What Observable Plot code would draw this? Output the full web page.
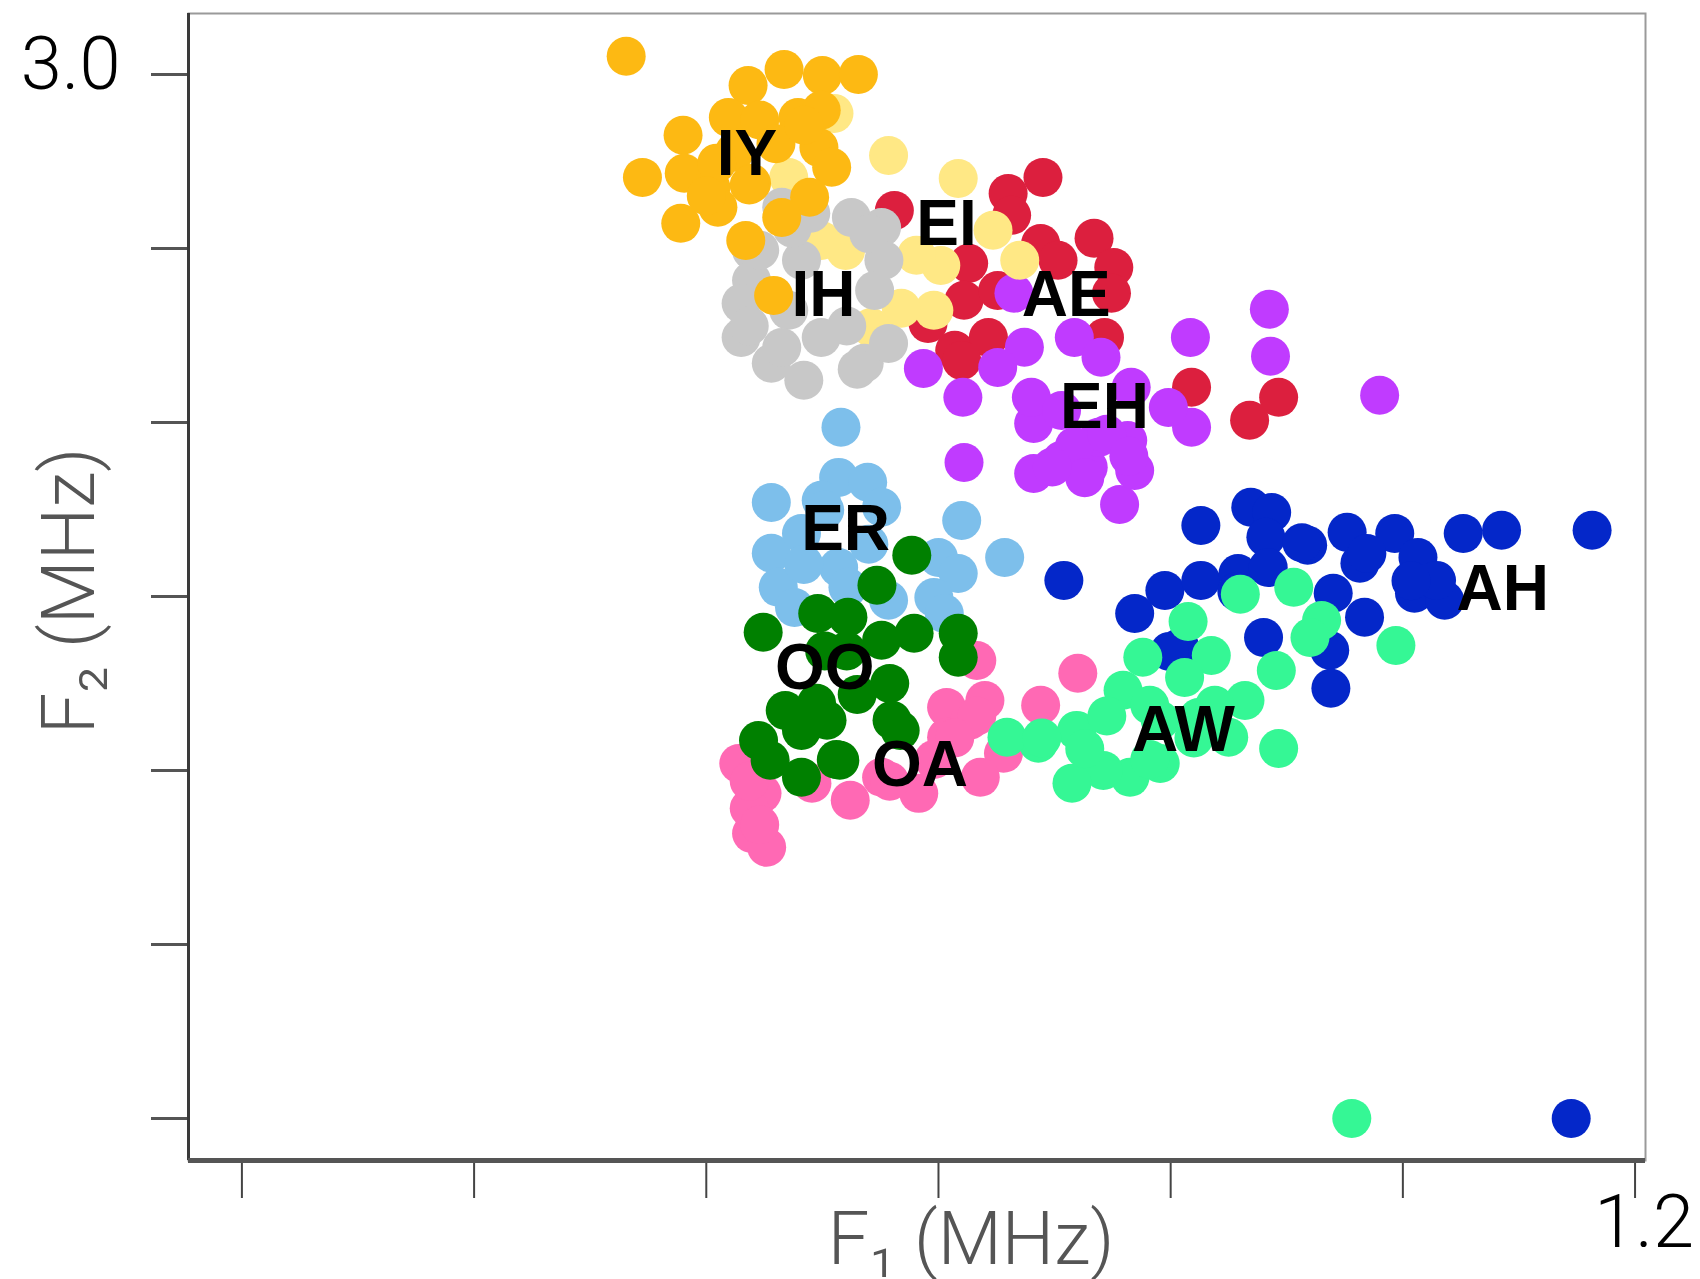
<!DOCTYPE html>
<html><head><meta charset="utf-8">
<script src="https://cdn.jsdelivr.net/npm/d3@7"></script>
<script src="https://cdn.jsdelivr.net/npm/@observablehq/plot@0.6"></script>
<style>html,body{margin:0;padding:0;background:#fff;} #chart svg{display:block;}</style>
</head><body><div id="chart"></div>
<script>
// Vowel clusters: [F1 (MHz), F2 (MHz)]
const AH = [[0.708,1.546],[0.826,1.704],[0.869,1.756],[0.887,1.741],[0.882,1.670],[0.918,1.647],[0.952,1.684],[0.993,1.681],[1.052,1.681],[1.085,1.690],[1.163,1.690],[0.769,1.451],[0.795,1.517],[0.826,1.546],[0.858,1.566],[0.884,1.583],[0.940,1.509],[0.967,1.440],[1.010,1.509],[1.036,1.489],[1.013,1.612],[0.963,1.595],[0.880,1.382],[0.937,1.345],[0.938,1.236],[0.808,1.353],[1.029,1.546],[0.799,1.342],[0.913,1.654],[0.969,1.623],[0.857,1.514],[1.007,1.545],[1.145,0.000]];
const ER = [[0.516,1.986],[0.456,1.770],[0.514,1.842],[0.539,1.828],[0.551,1.756],[0.499,1.776],[0.620,1.718],[0.657,1.612],[0.456,1.624],[0.482,1.681],[0.462,1.526],[0.476,1.468],[0.514,1.583],[0.600,1.612],[0.617,1.566],[0.596,1.497],[0.605,1.451],[0.557,1.489],[0.522,1.526],[0.484,1.592],[0.502,1.748],[0.540,1.650]];
const OA = [[0.633,1.316],[0.720,1.279],[0.688,1.187],[0.640,1.201],[0.607,1.181],[0.607,1.095],[0.656,1.049],[0.636,0.980],[0.583,0.934],[0.524,0.914],[0.491,0.963],[0.428,1.020],[0.448,0.934],[0.439,0.819],[0.452,0.779],[0.551,0.980],[0.627,1.144],[0.437,0.891],[0.633,1.156],[0.614,1.093],[0.596,1.031],[0.558,0.969],[0.437,0.969],[0.446,0.844]];
const AE = [[0.690,2.704],[0.660,2.658],[0.562,2.609],[0.734,2.529],[0.751,2.445],[0.688,2.514],[0.703,2.466],[0.626,2.457],[0.622,2.351],[0.651,2.379],[0.614,2.207],[0.643,2.244],[0.743,2.244],[0.749,2.371],[0.591,2.284],[0.620,2.178],[0.818,2.101],[0.893,2.072],[0.868,2.006],[0.663,2.595]];
const EH = [[0.885,2.325],[0.886,2.190],[0.817,2.244],[0.980,2.078],[0.587,2.155],[0.621,2.072],[0.622,1.885],[0.682,1.853],[0.756,1.764],[0.769,1.862],[0.729,1.871],[0.706,1.891],[0.818,1.986],[0.798,2.043],[0.766,2.101],[0.763,1.948],[0.682,1.997],[0.680,2.072],[0.717,2.244],[0.740,2.187],[0.674,2.216],[0.651,2.158],[0.738,1.957],[0.665,2.371],[0.706,2.034],[0.717,1.931],[0.745,1.966],[0.726,1.841],[0.698,1.872],[0.764,1.903]];
const EI = [[0.557,2.767],[0.617,2.701],[0.647,2.552],[0.670,2.466],[0.602,2.451],[0.581,2.480],[0.596,2.322],[0.568,2.328],[0.542,2.273],[0.520,2.494],[0.499,2.523],[0.510,2.888],[0.471,2.704]];
const AW = [[0.860,1.506],[0.906,1.526],[0.815,1.428],[0.930,1.431],[0.920,1.382],[0.994,1.359],[0.835,1.330],[0.776,1.325],[0.891,1.287],[0.759,1.230],[0.812,1.267],[0.864,1.201],[0.850,1.095],[0.893,1.063],[0.791,1.020],[0.765,0.980],[0.742,1.000],[0.715,0.963],[0.719,1.115],[0.686,1.078],[0.659,1.095],[0.791,1.144],[0.824,1.152],[0.745,1.156],[0.782,1.187],[0.838,1.187],[0.726,1.062],[0.782,1.031],[0.820,1.093],[0.689,1.093],[0.956,0.000]];
const OO = [[0.577,1.618],[0.547,1.532],[0.449,1.397],[0.496,1.451],[0.522,1.440],[0.579,1.394],[0.617,1.394],[0.617,1.325],[0.551,1.374],[0.558,1.250],[0.468,1.172],[0.495,1.193],[0.560,1.144],[0.567,1.115],[0.445,1.086],[0.482,1.115],[0.455,1.029],[0.482,0.980],[0.515,1.029],[0.504,1.144],[0.521,1.343],[0.530,1.218],[0.502,1.343],[0.512,1.031]];
const IH = [[0.465,2.618],[0.490,2.601],[0.525,2.589],[0.551,2.560],[0.439,2.494],[0.439,2.408],[0.553,2.466],[0.545,2.379],[0.430,2.342],[0.471,2.322],[0.430,2.244],[0.456,2.170],[0.484,2.121],[0.499,2.244],[0.536,2.170],[0.557,2.227],[0.482,2.466],[0.446,2.495],[0.437,2.277],[0.465,2.215],[0.530,2.153],[0.540,2.542],[0.474,2.558],[0.521,2.277]];
const IY = [[0.331,3.052],[0.467,3.014],[0.500,2.997],[0.531,3.000],[0.436,2.968],[0.419,2.876],[0.479,2.876],[0.499,2.897],[0.380,2.825],[0.497,2.790],[0.424,2.776],[0.345,2.704],[0.508,2.733],[0.381,2.716],[0.404,2.675],[0.439,2.687],[0.489,2.647],[0.378,2.572],[0.434,2.523],[0.410,2.618],[0.446,2.869],[0.460,2.801],[0.484,2.854],[0.409,2.745],[0.437,2.682],[0.465,2.589],[0.400,2.651],[0.458,2.365]];

const vowels = ["AH","ER","OA","AE","EH","EI","AW","OO","IH","IY"];
const vowelColors = ["#0427C9","#7DBFEB","#FF69B4","#DC1F3E","#C03BFF","#FFE885","#35F795","#008000","#C8C8C8","#FDB913"];
const clusters = [AH, ER, OA, AE, EH, EI, AW, OO, IH, IY];

// Cluster labels
const labelText = ["IY","EI","IH","AE","EH","ER","AH","OO","AW","OA"];
const labelF1 = [0.435,0.607,0.501,0.710,0.743,0.520,1.086,0.502,0.811,0.584];
const labelF2 = [2.770,2.569,2.365,2.365,2.043,1.693,1.520,1.293,1.115,1.014];

const xTicks = [0,0.2,0.4,0.6,0.8,1.0,1.2];
const yTicks = [0,0.5,1.0,1.5,2.0,2.5,3.0];
const xDomain = [-0.046, 1.209];
const yDomain = [-0.121, 3.175];
const xTitle = "F\u2081 (MHz)";
const yTitle = "F\u2082 (MHz)";

const points = clusters.flatMap((arr, i) => arr.map(([f1, f2]) => ({vowel: vowels[i], F1: f1, F2: f2})));
const labels = labelText.map((t, i) => ({text: t, F1: labelF1[i], F2: labelF2[i]}));

const thin = "Roboto, 'Liberation Sans', sans-serif";
const blank = () => "";

const chart = Plot.plot({
  width: 1700,
  height: 1279,
  marginLeft: 188,
  marginRight: 55,
  marginTop: 13,
  marginBottom: 119,
  style: {background: "#fff", fontFamily: thin, overflow: "visible"},
  x: {domain: xDomain},
  y: {domain: yDomain},
  color: {domain: vowels, range: vowelColors},
  marks: [
    Plot.frame({stroke: "#9a9a9a", strokeWidth: 2}),
    // tick lines
    Plot.axisY({ticks: yTicks, tickSize: 37, strokeWidth: 3, stroke: "#555", tickFormat: blank, label: null}),
    Plot.axisX({ticks: xTicks, tickSize: 38, strokeWidth: 2, stroke: "#444", tickFormat: blank, label: null}),
    // tick labels (only the extremes are labelled)
    Plot.axisY({ticks: yTicks, tickSize: 0, tickPadding: 68,
      tickFormat: (d, i) => i === yTicks.length - 1 ? d3.format(".1f")(d) : "",
      fontSize: 74, fontWeight: 300, fontFamily: thin, fill: "#000", dy: -9, label: null}),
    Plot.axisX({ticks: xTicks, tickSize: 0, tickPadding: 34,
      tickFormat: (d, i) => i === xTicks.length - 1 ? d3.format(".1f")(d) : "",
      fontSize: 74, fontWeight: 300, fontFamily: thin, fill: "#000", dx: 9, label: null}),
    Plot.ruleX([xDomain[0]], {stroke: "#3a3a3a", strokeWidth: 3}),
    Plot.ruleY([yDomain[0]], {stroke: "#555", strokeWidth: 5}),
    Plot.dot(points, {x: "F1", y: "F2", fill: "vowel", r: 19.5, stroke: null}),
    Plot.text(labels, {x: "F1", y: "F2", text: "text", fontSize: 64, fontWeight: "bold",
      fontFamily: "'Liberation Sans', Arial, sans-serif", fill: "#000"}),
    Plot.text([yTitle], {frameAnchor: "left", dx: -118, dy: 4, rotate: -90, fontSize: 74,
      fontWeight: 300, fontFamily: thin, fill: "#555", textAnchor: "middle"}),
    Plot.text([xTitle], {frameAnchor: "bottom", dx: 54, dy: 103, fontSize: 74,
      fontWeight: 300, fontFamily: thin, fill: "#555", textAnchor: "middle"})
  ]
});
document.getElementById("chart").appendChild(chart);
</script>
</body></html>
